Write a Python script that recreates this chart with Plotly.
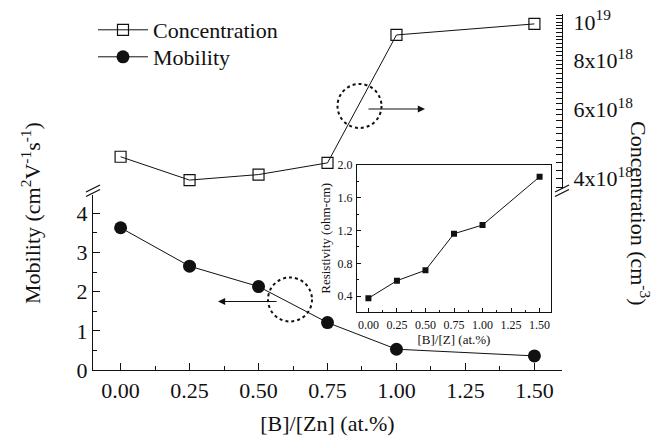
import numpy as np
import plotly.graph_objects as go

# ---- data ----
ratio = [0.00, 0.25, 0.50, 0.75, 1.00, 1.50]
concentration = [4.54e18, 3.96e18, 4.09e18, 4.38e18, 9.27e18, 9.89e18]
mobility = [3.63, 2.65, 2.13, 1.21, 0.53, 0.36]
inset_ratio = [0.00, 0.25, 0.50, 0.75, 1.00, 1.50]
resistivity = [0.374, 0.589, 0.716, 1.162, 1.268, 1.857]

conc_ticks = [4e18, 6e18, 8e18, 1e19]
conc_ticktext = ["4x10<sup>18</sup>", "6x10<sup>18</sup>", "8x10<sup>18</sup>", "10<sup>19</sup>"]

FONT = "'Liberation Serif', 'Times New Roman', serif"
BLACK = "#111111"
FS = 22

# geometry helpers (plot area in pixels)
L, R, T, B = 93, 562, 14, 370
W_, H_ = R - L, B - T
def px(x):
    return (x - L) / W_
def py(y):
    return (B - y) / H_

LOW = [0, 0.492]
UP = [0.508, 1]

fig = go.Figure()

fig.add_trace(go.Scatter(
    x=ratio, y=concentration, name="Concentration", xaxis="x", yaxis="y3", legend="legend",
    mode="lines+markers", line=dict(color=BLACK, width=1),
    marker=dict(symbol="square-open", size=11, color=BLACK, line=dict(width=1.2, color=BLACK))))
fig.add_trace(go.Scatter(
    x=ratio, y=mobility, name="Mobility", xaxis="x", yaxis="y", legend="legend2",
    mode="lines+markers", line=dict(color=BLACK, width=1),
    marker=dict(symbol="circle", size=13, color=BLACK)))
fig.add_trace(go.Scatter(
    x=inset_ratio, y=resistivity, xaxis="x2", yaxis="y5", showlegend=False,
    mode="lines+markers", line=dict(color=BLACK, width=1),
    marker=dict(symbol="square", size=6, color=BLACK)))

axcommon = dict(showgrid=False, zeroline=False, showline=True, linecolor=BLACK, linewidth=1.3,
                tickcolor=BLACK, automargin=False, tickfont=dict(family=FONT, size=FS, color=BLACK))
minor_main = dict(ticks="inside", ticklen=4, tickwidth=1, tickcolor=BLACK)

# right-axis ticks: labelled majors plus unlabelled intermediate ticks
minor_up = [round(v, 1) * 1e18 for v in np.arange(3.8, 10.41, 0.2) if round(v, 1) not in (4.0, 6.0, 8.0, 10.0)]
up_vals = conc_ticks + minor_up
up_text = conc_ticktext + [""] * len(minor_up)
minor_low = [round(v, 1) * 1e18 for v in np.arange(1.2, 2.81, 0.2)]
low_vals = [1e18] + minor_low
low_text = ["10<sup>18</sup>"] + [""] * len(minor_low)

legend_common = dict(xanchor="left", yanchor="middle", bgcolor="rgba(0,0,0,0)",
                     font=dict(family=FONT, size=FS, color=BLACK), itemwidth=50)

fig.update_layout(
    width=661, height=438,
    margin=dict(l=L, r=661 - R, t=T, b=438 - B, autoexpand=False),
    paper_bgcolor="white", plot_bgcolor="white",
    font=dict(family=FONT, size=FS, color=BLACK),
    showlegend=True,
    legend=dict(x=0.0, y=py(30), **legend_common),
    legend2=dict(x=0.0, y=py(57), **legend_common),
    xaxis=dict(**axcommon, domain=[0, 1], anchor="y", range=[-0.1, 1.6],
               tickmode="linear", tick0=0, dtick=0.25, tickformat=".2f",
               ticks="inside", ticklen=7, tickwidth=1.2, ticklabelstandoff=0,
               minor=dict(**minor_main, tick0=0, dtick=0.125),
               title=dict(text="[B]/[Zn] (at.%)", font=dict(family=FONT, size=FS, color=BLACK), standoff=14)),
    xaxis3=dict(**axcommon, overlaying="x", anchor="y3", side="top", range=[-0.1, 1.6],
                tickmode="linear", tick0=0, dtick=0.25, showticklabels=False,
                ticks="inside", ticklen=7, tickwidth=1.2,
                minor=dict(**minor_main, tick0=0, dtick=0.125)),
    yaxis=dict(**axcommon, domain=LOW, anchor="x", range=[0, 4.47],
               tickmode="linear", tick0=0, dtick=1, ticks="inside", ticklen=7, tickwidth=1.2,
               ticklabelstandoff=0,
               minor=dict(**minor_main, tick0=0, dtick=0.5)),
    yaxis2=dict(**axcommon, domain=UP, anchor="x", range=[0, 1],
                tickvals=[0.378], showticklabels=False, ticks="inside", ticklen=7, tickwidth=1.2),
    yaxis3=dict(**axcommon, domain=UP, anchor="x", side="right", type="log",
                range=[18.5746, 19.0204], tickvals=up_vals, ticktext=up_text,
                ticks="inside", ticklen=6, tickwidth=1.1, ticklabelstandoff=6),
    yaxis4=dict(**axcommon, domain=LOW, anchor="x", side="right", type="log",
                range=[18, 18.449], tickvals=low_vals, ticktext=low_text,
                ticks="inside", ticklen=7, tickwidth=1.1, ticklabelstandoff=6),
    xaxis2=dict(showgrid=False, zeroline=False, showline=True, mirror=True, linecolor=BLACK, linewidth=1,
                automargin=False,
                domain=[px(357), px(551)], anchor="y5", range=[-0.1, 1.6],
                tickmode="linear", tick0=0, dtick=0.25, tickformat=".2f",
                ticks="inside", ticklen=4, tickcolor=BLACK, ticklabelstandoff=2,
                minor=dict(ticks="inside", ticklen=2, tickcolor=BLACK, tick0=0, dtick=0.125),
                tickfont=dict(family=FONT, size=12, color=BLACK),
                title=dict(text="[B]/[Z] (at.%)", font=dict(family=FONT, size=13, color=BLACK), standoff=3)),
    yaxis5=dict(showgrid=False, zeroline=False, showline=True, mirror=True, linecolor=BLACK, linewidth=1,
                automargin=False,
                domain=[py(311.7), py(165)], anchor="x2", range=[0.21, 2.001],
                tickmode="linear", tick0=0.4, dtick=0.4, tickformat=".1f",
                ticks="inside", ticklen=4, tickcolor=BLACK, ticklabelstandoff=1,
                minor=dict(ticks="inside", ticklen=2, tickcolor=BLACK, tick0=0.2, dtick=0.2),
                tickfont=dict(family=FONT, size=12, color=BLACK),
                title=dict(text="Resistivity (ohm-cm)", font=dict(family=FONT, size=13, color=BLACK), standoff=4)),
)

# axis titles as rotated annotations
fig.add_annotation(x=px(31), y=py(213), xref="paper", yref="paper", xanchor="center", yanchor="middle",
                   showarrow=False, textangle=-90,
                   text="Mobility (cm<sup>2</sup>V<sup>-1</sup>s<sup>-1</sup>)",
                   font=dict(family=FONT, size=FS, color=BLACK))
fig.add_annotation(x=px(640), y=py(213), xref="paper", yref="paper", xanchor="center", yanchor="middle",
                   showarrow=False, textangle=90,
                   text="Concentration (cm<sup>-3</sup>)",
                   font=dict(family=FONT, size=FS, color=BLACK))

# dotted circles + arrows
for cx, cy in [(359.5, 106), (290, 299.5)]:
    fig.add_shape(type="circle", xref="paper", yref="paper",
                  x0=px(cx - 22), x1=px(cx + 22), y0=py(cy + 22), y1=py(cy - 22),
                  line=dict(color=BLACK, width=2, dash="dot"))
fig.add_annotation(x=px(425), y=py(109), xref="paper", yref="paper", ax=-58, ay=0,
                   showarrow=True, arrowhead=2, arrowsize=1.2, arrowwidth=1.2, arrowcolor=BLACK, text="")
fig.add_annotation(x=px(218), y=py(301.5), xref="paper", yref="paper", ax=60, ay=0,
                   showarrow=True, arrowhead=2, arrowsize=1.2, arrowwidth=1.2, arrowcolor=BLACK, text="")

# axis-break marks
for xc in [L, R]:
    for dy in [0, 4.5]:
        fig.add_shape(type="line", xref="paper", yref="paper",
                      x0=px(xc - 7), y0=py(192 + dy), x1=px(xc + 7), y1=py(185 + dy),
                      line=dict(color=BLACK, width=1.3))

fig.write_html("out.html")
